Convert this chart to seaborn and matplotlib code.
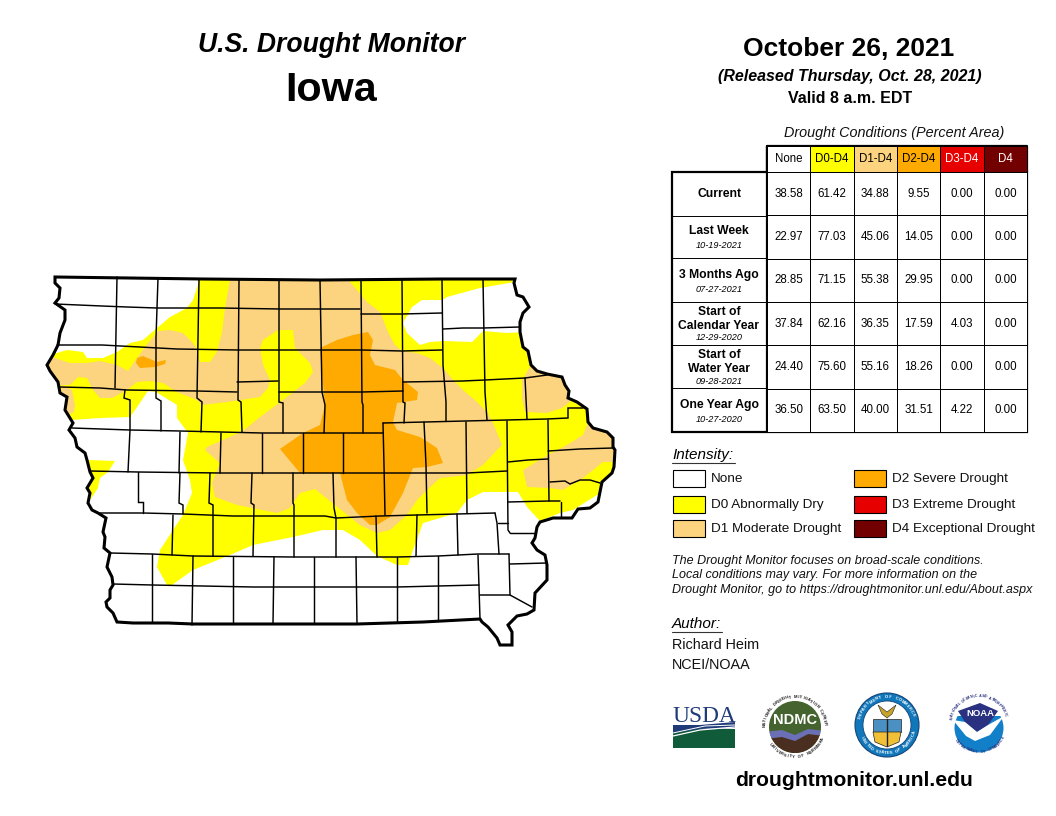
"""U.S. Drought Monitor map for Iowa, Oct 26 2021"""

import numpy as np
import pandas as pd
import matplotlib.pyplot as plt
import seaborn as sns
from matplotlib.colors import ListedColormap
from matplotlib.patches import Circle, Polygon, Rectangle

W, H = 1056, 816

# table values
table_rows = ["Current", "Last Week", "3 Months Ago", "Start of\nCalendar Year", "Start of\nWater Year", "One Year Ago"]
table_dates = ["", "10-19-2021", "07-27-2021", "12-29-2020", "09-28-2021", "10-27-2020"]
table_cols = ["None", "D0-D4", "D1-D4", "D2-D4", "D3-D4", "D4"]
none_vals = [38.58, 22.97, 28.85, 37.84, 24.40, 36.50]
d0_vals = [61.42, 77.03, 71.15, 62.16, 75.60, 63.50]
d1_vals = [34.88, 45.06, 55.38, 36.35, 55.16, 40.00]
d2_vals = [9.55, 14.05, 29.95, 17.59, 18.26, 31.51]
d3_vals = [0.00, 0.00, 0.00, 4.03, 0.00, 4.22]
d4_vals = [0.00, 0.00, 0.00, 0.00, 0.00, 0.00]
header_colors = ["#FFFFFF", "#FFFF00", "#FCD37F", "#FFAA00", "#E60000", "#730000"]
header_text = ["black", "black", "black", "black", "white", "white"]

legend_labels = ["None", "D0 Abnormally Dry", "D1 Moderate Drought",
                 "D2 Severe Drought", "D3 Extreme Drought", "D4 Exceptional Drought"]
legend_colors = ["#FFFFFF", "#FFFF00", "#FCD37F", "#FFAA00", "#E60000", "#730000"]

state_outline = [
    (55, 277), (203, 279), (320, 280), (442, 279), (515, 279), (514, 283), (517, 295), (523, 297),
    (529, 307), (523, 313), (520, 322), (520, 332), (523, 347), (528, 351), (531, 365), (537, 371),
    (547, 374), (562, 377), (565, 385), (569, 391), (568, 398), (577, 402), (587, 409), (588, 422),
    (593, 428), (607, 432), (613, 438), (613, 447), (615, 450), (614, 467), (612, 473), (602, 482),
    (600, 492), (598, 502), (590, 508), (578, 509), (572, 518), (553, 518), (540, 522), (537, 527),
    (535, 538), (532, 543), (537, 550), (545, 555), (547, 565), (547, 580), (535, 593), (534, 610),
    (527, 614), (517, 616), (508, 625), (512, 632), (512, 645), (500, 645), (497, 638), (488, 627),
    (482, 622), (480, 619), (423, 622), (357, 624), (193, 624), (168, 623), (133, 623), (117, 622),
    (113, 613), (107, 607), (106, 602), (110, 598), (110, 590), (113, 585), (112, 577), (107, 567),
    (110, 553), (104, 548), (105, 537), (103, 532), (106, 518), (98, 513), (92, 510), (88, 503),
    (90, 493), (87, 488), (93, 478), (90, 472), (87, 460), (85, 453), (77, 447), (75, 438),
    (69, 430), (73, 423), (65, 410), (67, 397), (60, 393), (58, 382), (50, 371), (47, 365),
    (53, 355), (58, 345), (60, 333), (65, 320), (65, 310), (55, 303), (59, 298), (60, 288), (55, 283),
]

# drought areas, clipped to the state when drawn
d0_area = [
    (198, 270), (198, 285), (193, 300), (187, 308), (170, 317), (157, 328), (143, 340), (130, 343),
    (117, 352), (103, 358), (87, 358), (83, 352), (67, 350), (57, 353), (40, 353), (40, 420),
    (72, 420), (100, 418), (130, 417), (133, 413), (148, 391), (156, 392), (177, 405), (177, 418),
    (188, 433), (183, 460), (190, 480), (192, 493), (183, 515), (173, 530), (160, 550), (157, 567),
    (167, 585), (172, 585), (193, 570), (230, 555), (253, 545), (293, 537), (323, 530), (343, 530),
    (360, 540), (377, 556), (397, 565), (408, 565), (413, 550), (423, 523), (457, 513), (467, 500),
    (483, 492), (518, 492), (527, 507), (540, 521), (560, 513), (573, 510), (597, 495), (630, 495),
    (630, 270),
]
d0_spot = [(88, 460), (115, 461), (108, 472), (100, 478), (98, 488), (90, 500), (80, 480)]
none_hole = [
    (515, 282), (480, 288), (447, 297), (443, 300), (422, 300), (412, 307), (403, 323), (407, 333),
    (420, 345), (430, 342), (443, 341), (472, 342), (483, 331), (507, 333), (525, 332), (540, 300), (530, 270),
]
d1_main = [
    (230, 270), (230, 280), (225, 308), (222, 332), (217, 352), (210, 362), (200, 362), (197, 350),
    (193, 343), (183, 333), (170, 330), (158, 331), (145, 347), (128, 371), (117, 365), (100, 361),
    (87, 363), (70, 363), (55, 358), (40, 358), (40, 385), (70, 385), (78, 377), (87, 378),
    (93, 390), (100, 398), (112, 398), (127, 390), (137, 382), (150, 381), (163, 383), (177, 392),
    (197, 400), (202, 405), (227, 402), (240, 400), (260, 397), (268, 388), (270, 380), (263, 365),
    (260, 348), (263, 340), (278, 330), (293, 330), (295, 348), (310, 363), (313, 372), (305, 383),
    (283, 400), (260, 417), (243, 431), (223, 440), (207, 447), (205, 450), (220, 463), (212, 483),
    (215, 497), (237, 505), (277, 513), (290, 508), (300, 493), (315, 489), (335, 505), (360, 525),
    (377, 533), (390, 530), (407, 515), (417, 500), (427, 490), (440, 478), (467, 475), (483, 465),
    (497, 450), (502, 445), (493, 423), (487, 412), (477, 402), (463, 390), (455, 382), (443, 368),
    (430, 358), (417, 353), (402, 351), (395, 345), (388, 332), (380, 312), (367, 302), (357, 290),
    (350, 282), (350, 270),
]
d1_mid_west = [(62, 385), (72, 390), (75, 405), (74, 412), (68, 415), (60, 405)]
d1_east_a = [(530, 367), (522, 380), (522, 398), (525, 412), (547, 413), (562, 408), (572, 400),
             (580, 395), (560, 360), (540, 360)]
d1_east_b = [(590, 418), (583, 435), (567, 445), (548, 455), (523, 470), (527, 487), (550, 488),
             (563, 490), (583, 478), (603, 462), (625, 462), (625, 420), (600, 420)]
d2_main = [
    (320, 348), (337, 340), (353, 335), (368, 332), (373, 340), (370, 355), (375, 365), (395, 370),
    (403, 380), (418, 392), (417, 400), (397, 403), (393, 422), (397, 430), (420, 437), (437, 448),
    (443, 463), (427, 467), (413, 468), (403, 493), (390, 517), (377, 525), (370, 525), (357, 513),
    (347, 500), (340, 473), (300, 473), (280, 449), (303, 433), (320, 425), (325, 405), (320, 352),
]
d2_spot = [(136, 363), (137, 358), (143, 356), (157, 362), (166, 360), (165, 364), (155, 367), (140, 368)]

# county lines
county_lines = [
    [(55, 304), (102, 306), (127, 307), (157, 308), (220, 308), (280, 309), (360, 309)],
    [(361, 314), (402, 314), (442, 313)],
    [(443, 329), (463, 328), (483, 328), (520, 327)],
    [(57, 345), (102, 345), (177, 349), (238, 350), (280, 350), (362, 350), (402, 351), (442, 350)],
    [(60, 387), (100, 388), (127, 390), (197, 391), (237, 392)],
    [(237, 382), (278, 381)],
    [(279, 392), (362, 392), (403, 391)],
    [(403, 382), (463, 381), (485, 380), (525, 378), (547, 375)],
    [(72, 428), (130, 430), (180, 431), (262, 433), (343, 433), (383, 433)],
    [(383, 423), (425, 422), (465, 421), (507, 420), (547, 419), (568, 418), (568, 408), (583, 408)],
    [(90, 471), (138, 472), (220, 473), (333, 473), (426, 473), (467, 473), (507, 471)],
    [(508, 462), (528, 460), (548, 459)],
    [(550, 482), (565, 481), (570, 484), (580, 480), (590, 480), (600, 483)],
    [(548, 451), (580, 449), (613, 448)],
    [(100, 513), (143, 513), (183, 514), (233, 516), (290, 516), (325, 516), (336, 518), (380, 516),
     (417, 515), (457, 514), (495, 513)],
    [(508, 502), (549, 501), (560, 501)],
    [(110, 553), (152, 554), (193, 556), (293, 557), (397, 557), (438, 556), (478, 554), (509, 554)],
    [(498, 523), (508, 523)],
    [(510, 533), (535, 533)],
    [(113, 584), (152, 585), (253, 587), (397, 587), (438, 586), (479, 585)],
    [(510, 564), (547, 563)],
    [(480, 595), (510, 595), (532, 607)],
    [(117, 277), (116, 332), (115, 388)],
    [(158, 278), (156, 338), (156, 398), (161, 401), (161, 431)],
    [(199, 280), (197, 398), (202, 402), (201, 432)],
    [(239, 280), (238, 400), (241, 402), (242, 432)],
    [(279, 280), (279, 402), (283, 403), (283, 433)],
    [(320, 280), (322, 392), (325, 405), (324, 433)],
    [(361, 280), (362, 402), (363, 405), (363, 433)],
    [(402, 280), (403, 402), (405, 403), (404, 423)],
    [(442, 279), (443, 365), (446, 402), (446, 421)],
    [(483, 279), (485, 392), (487, 420)],
    [(525, 378), (527, 419)],
    [(383, 423), (384, 465), (385, 515)],
    [(376, 516), (377, 557)],
    [(125, 390), (124, 398), (130, 400), (130, 430), (128, 472)],
    [(180, 432), (179, 473)],
    [(221, 433), (220, 473)],
    [(262, 433), (262, 473)],
    [(303, 433), (303, 473)],
    [(343, 433), (343, 473)],
    [(424, 422), (426, 465), (427, 513)],
    [(466, 422), (467, 513)],
    [(507, 421), (508, 530), (510, 533)],
    [(548, 420), (549, 501)],
    [(561, 502), (561, 517)],
    [(138, 472), (138, 502), (143, 502), (143, 513)],
    [(180, 473), (179, 503), (183, 505), (183, 514)],
    [(210, 473), (209, 503), (213, 505), (213, 556)],
    [(252, 473), (251, 503), (254, 505), (253, 556)],
    [(293, 473), (293, 503), (294, 505), (294, 557)],
    [(333, 473), (334, 508), (336, 518), (336, 557)],
    [(173, 515), (172, 555)],
    [(417, 515), (416, 556)],
    [(457, 514), (458, 555)],
    [(495, 513), (497, 523), (499, 554)],
    [(152, 554), (152, 622)],
    [(193, 556), (192, 625)],
    [(233, 557), (233, 624)],
    [(274, 557), (273, 624)],
    [(314, 557), (314, 624)],
    [(356, 557), (357, 624)],
    [(397, 557), (397, 622)],
    [(438, 556), (438, 621)],
    [(478, 555), (480, 619)],
    [(509, 554), (510, 595)],
]

sns.set_style("white")
plt.rcParams["font.family"] = ["Liberation Sans", "DejaVu Sans"]
plt.rcParams["text.color"] = "black"


def pixel_axes(fig, x, y, w, h):
    """Axes placed by image pixels"""
    return fig.add_axes([x / W, 1 - (y + h) / H, w / W, h / H])


def ring_text(ax, text, cx, cy, r, start, step, color, size=3.0):
    """Tiny lettering round a seal"""
    for i, ch in enumerate(text):
        ang = np.deg2rad(start + i * step)
        rot = -np.rad2deg(ang)
        if step < 0:
            rot += 180
        ax.text(cx + r * np.sin(ang), cy - r * np.cos(ang), ch, color=color, fontsize=size,
                fontweight="bold", ha="center", va="center", rotation=rot)


def draw_map(ax):
    outline = Polygon(state_outline, closed=True, facecolor="white", edgecolor="none")
    ax.add_patch(outline)
    layers = [
        (d0_area, "#FFFF00"), (d0_spot, "#FFFF00"), (none_hole, "#FFFFFF"),
        (d1_main, "#FCD37F"), (d1_mid_west, "#FCD37F"), (d1_east_a, "#FCD37F"), (d1_east_b, "#FCD37F"),
        (d2_main, "#FFAA00"), (d2_spot, "#FFAA00"),
    ]
    for pts, color in layers:
        patch = Polygon(pts, closed=True, facecolor=color, edgecolor="none")
        ax.add_patch(patch)
        patch.set_clip_path(outline)
    for line in county_lines:
        xs, ys = zip(*line)
        ax.plot(xs, ys, color="black", lw=1.05, solid_joinstyle="miter")
    ax.add_patch(Polygon(state_outline, closed=True, fill=False, edgecolor="black", lw=2.2))


def draw_table(fig, ax):
    values = pd.DataFrame(
        {"None": none_vals, "D0-D4": d0_vals, "D1-D4": d1_vals,
         "D2-D4": d2_vals, "D3-D4": d3_vals, "D4": d4_vals},
        index=[r.replace("\n", " ") for r in table_rows],
    )
    body = pixel_axes(fig, 767, 172, 260, 260)
    sns.heatmap(values, ax=body, cmap=ListedColormap(["white"]), cbar=False, annot=True, fmt=".2f",
                annot_kws={"fontsize": 8.3, "color": "black"}, linewidths=0.5, linecolor="black",
                xticklabels=False, yticklabels=False)

    head = pixel_axes(fig, 767, 146, 260, 26)
    codes = pd.DataFrame([list(range(len(table_cols)))], columns=table_cols)
    labels = np.array([table_cols])
    sns.heatmap(codes, ax=head, cmap=ListedColormap(header_colors), cbar=False, annot=labels, fmt="",
                annot_kws={"fontsize": 8.3}, linewidths=0.5, linecolor="black",
                xticklabels=False, yticklabels=False)
    for txt, color in zip(head.texts, header_text):
        txt.set_color(color)

    # row label column and the heavy frame
    ax.add_patch(Rectangle((672, 172), 355, 260, fill=False, edgecolor="black", lw=1.6, zorder=6))
    ax.plot([767, 767, 1027, 1027], [172, 146, 146, 172], color="black", lw=1.6)
    ax.plot([767, 767], [146, 432], color="black", lw=1.6, zorder=6)
    row_tops = [172, 216, 258, 302, 345, 388]
    for sep in row_tops[1:]:
        ax.plot([672, 767], [sep, sep], color="black", lw=0.7)
    lab_y = [194, 231, 275, 312, 355, 405]
    date_y = [None, 246, 289, 337, 381, 420]
    for name, date, y, dy in zip(table_rows, table_dates, lab_y, date_y):
        if "\n" in name:
            first, second = name.split("\n")
            ax.text(719, y, first, fontsize=8.7, fontweight="bold", ha="center", va="center")
            ax.text(719, y + 14, second, fontsize=8.7, fontweight="bold", ha="center", va="center")
        else:
            ax.text(719, y, name, fontsize=8.7, fontweight="bold", ha="center", va="center")
        if date:
            ax.text(719, dy, date, fontsize=6.6, fontstyle="italic", ha="center", va="center")


def draw_legend(ax):
    ax.text(672, 455, "Intensity:", fontsize=11, fontstyle="italic", va="center")
    ax.plot([672, 735], [463, 463], color="#333333", lw=0.8)
    spots = [(673, 470), (673, 496), (673, 520), (854, 470), (854, 496), (854, 520)]
    for (x, y), label, color in zip(spots, legend_labels, legend_colors):
        ax.add_patch(Rectangle((x, y), 32, 17, facecolor=color, edgecolor="black", lw=0.8))
        ax.text(x + 38, y + 9, label, fontsize=9.7, va="center", color="#111111")


def draw_logos(ax):
    # USDA
    ax.text(672, 722, "USDA", fontsize=16.8, family="Liberation Serif", color="#1F3A78", va="baseline")
    ax.add_patch(Rectangle((673, 729), 62, 19, facecolor="#0F5B3A", edgecolor="none"))
    ax.add_patch(Polygon([(673, 725), (700, 725), (735, 722), (735, 728), (700, 729), (673, 733)],
                         facecolor="#1F3A78", edgecolor="none"))
    ax.plot([673, 700, 735], [736, 730, 727], color="white", lw=0.9)
    ax.plot([673, 705, 735], [733, 726, 725], color="white", lw=0.7)

    # NDMC
    cx, cy = 795, 727
    disc = Circle((cx, cy), 26, facecolor="#44632F", edgecolor="none")
    ax.add_patch(disc)
    brown = Polygon([(765, 738), (782, 735), (795, 740), (808, 734), (825, 735), (825, 760), (765, 760)],
                    facecolor="#4A2F20", edgecolor="none")
    ax.add_patch(brown)
    brown.set_clip_path(disc)
    wave = Polygon([(765, 732), (782, 730), (795, 735), (808, 729), (825, 731), (825, 736), (808, 734),
                    (795, 741), (782, 737), (765, 739)], facecolor="#6B6FB5", edgecolor="none")
    ax.add_patch(wave)
    wave.set_clip_path(disc)
    ax.text(cx, 720, "NDMC", fontsize=10.5, fontweight="bold", color="white", ha="center", va="center")
    ring_text(ax, "NATIONAL DROUGHT MITIGATION CENTER", cx, cy, 30, -88, 5.2, "#222222")
    ring_text(ax, "UNIVERSITY OF NEBRASKA", cx, cy, 30, 235, -5.8, "#222222")

    # Commerce seal
    cx, cy = 887, 725
    ax.add_patch(Circle((cx, cy), 32, facecolor="#1177BB", edgecolor="#114477", lw=0.8))
    ax.add_patch(Circle((cx, cy), 24, facecolor="white", edgecolor="#114477", lw=0.6))
    ax.add_patch(Rectangle((873, 719), 28, 13, facecolor="#4A90C2", edgecolor="#222222", lw=0.5))
    ax.add_patch(Polygon([(873, 732), (901, 732), (899, 742), (887, 747), (875, 742)],
                         facecolor="#F2C037", edgecolor="#222222", lw=0.5))
    ax.plot([887, 887], [719, 746], color="#222222", lw=1.0)
    ax.add_patch(Polygon([(878, 705), (887, 712), (896, 705), (892, 714), (887, 718), (882, 714)],
                         facecolor="#C8A32A", edgecolor="#222222", lw=0.4))
    ring_text(ax, "DEPARTMENT OF COMMERCE", cx, cy, 28, -75, 6.8, "white")
    ring_text(ax, "UNITED STATES OF AMERICA", cx, cy, 28, 243, -6, "white")

    # NOAA
    cx, cy = 979, 728
    disc = Circle((cx, cy), 24.5, facecolor="#1180C8", edgecolor="none")
    ax.add_patch(disc)
    cover = Rectangle((950, 690), 60, 26, facecolor="white", edgecolor="none")
    ax.add_patch(cover)
    ax.add_patch(Polygon([(958, 711), (980, 703), (998, 711), (988, 725), (977, 732), (965, 722)],
                         facecolor="#2A3180", edgecolor="none"))
    ax.add_patch(Polygon([(953, 720), (965, 722), (977, 732), (988, 725), (1004, 716), (990, 735),
                          (975, 741), (966, 736)], facecolor="white", edgecolor="none"))
    ax.text(980, 713, "NOAA", fontsize=6.8, fontweight="bold", color="white", ha="center", va="center")
    ring_text(ax, "NATIONAL OCEANIC AND ATMOSPHERIC", 979, 724, 28, -78, 4.8, "#2A3180", 2.6)
    ring_text(ax, "DEPARTMENT OF COMMERCE", 979, 724, 28, 235, -5.5, "#2A3180", 2.6)


fig = plt.figure(figsize=(W / 100, H / 100), dpi=100, facecolor="white")
ax = fig.add_axes([0, 0, 1, 1])
ax.set_xlim(0, W)
ax.set_ylim(H, 0)
ax.axis("off")

draw_map(ax)
draw_table(fig, ax)
draw_legend(ax)
draw_logos(ax)

# titles
ax.text(332, 45, "U.S. Drought Monitor", fontsize=19.1, fontweight="bold", fontstyle="italic", ha="center", va="center")
ax.text(331, 90, "Iowa", fontsize=29.7, fontweight="bold", ha="center", va="center")
ax.text(848.5, 49, "October 26, 2021", fontsize=19, fontweight="bold", ha="center", va="center")
ax.text(850, 76, "(Released Thursday, Oct. 28, 2021)", fontsize=11.5, fontweight="bold", fontstyle="italic", ha="center", va="center")
ax.text(850, 98.5, "Valid 8 a.m. EDT", fontsize=11.5, fontweight="bold", ha="center", va="center")
ax.text(894.5, 133.5, "Drought Conditions (Percent Area)", fontsize=10.35, fontstyle="italic", ha="center", va="center", color="#111111")

# notes
for y, line in zip([561, 575, 590], [
    "The Drought Monitor focuses on broad-scale conditions.",
    "Local conditions may vary. For more information on the",
    "Drought Monitor, go to https://droughtmonitor.unl.edu/About.aspx",
]):
    ax.text(672, y, line, fontsize=9.0, fontstyle="italic", va="center", color="#111111")
ax.text(672, 624, "Author:", fontsize=11, fontstyle="italic", va="center")
ax.plot([672, 722], [632, 632], color="#333333", lw=0.8)
ax.text(672, 645, "Richard Heim", fontsize=10.4, va="center", color="#111111")
ax.text(672, 665, "NCEI/NOAA", fontsize=10.4, va="center", color="#111111")
ax.text(854, 780, "droughtmonitor.unl.edu", fontsize=15.2, fontweight="bold", ha="center", va="center")

fig.savefig("out.png", dpi=100)
